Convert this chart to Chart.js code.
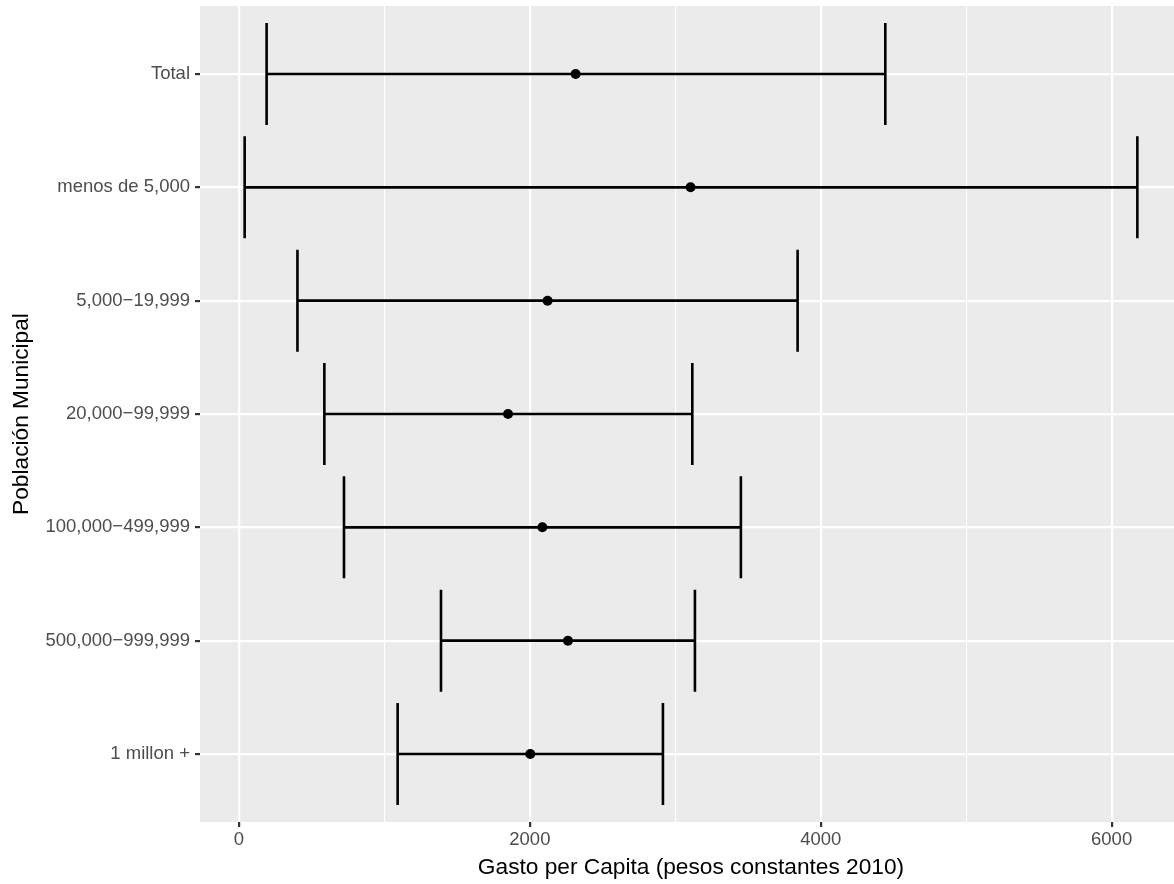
<!DOCTYPE html>
<html>
<head>
<meta charset="utf-8">
<script src="https://cdn.jsdelivr.net/npm/chart.js@4/dist/chart.umd.min.js"></script>
<style>
  html, body { margin: 0; padding: 0; background: #ffffff; overflow: hidden; }
  #wrap { width: 1187px; height: 884px; position: relative; }
</style>
</head>
<body>
<div id="wrap"><canvas id="c"></canvas></div>
<script>
// ---- data ----
const categories = ["Total", "menos de 5,000", "5,000\u221219,999", "20,000\u221299,999",
                    "100,000\u2212499,999", "500,000\u2212999,999", "1 millon +"];
const lowValues  = [190, 39, 402, 587, 722, 1389, 1091];
const highValues = [4444, 6177, 3841, 3117, 3451, 3135, 2915];
const meanValues = [2315, 3105, 2122, 1850, 2086, 2262, 2003];
const xTickValues = [0, 1000, 2000, 3000, 4000, 5000, 6000];
const xTitle = "Gasto per Capita (pesos constantes 2010)";
const yTitle = "Poblaci\u00f3n Municipal";

const FONT = "'Liberation Sans', Arial, sans-serif";

const panelBg = {
  id: 'panelBg',
  beforeDraw(chart) {
    const {ctx, chartArea: a} = chart;
    ctx.save();
    ctx.fillStyle = '#EBEBEB';
    ctx.fillRect(a.left, a.top, a.right - a.left, a.bottom - a.top);
    ctx.restore();
  }
};

const errorBars = {
  id: 'errorBars',
  beforeDatasetsDraw(chart) {
    const {ctx, chartArea: a, scales: {x, y}} = chart;
    ctx.save();
    ctx.beginPath();
    ctx.rect(a.left, a.top, a.right - a.left, a.bottom - a.top);
    ctx.clip();
    ctx.strokeStyle = '#000000';
    ctx.lineWidth = 2.6;
    ctx.lineCap = 'butt';
    categories.forEach((c, i) => {
      const yc = y.getPixelForValue(i);
      const yt = y.getPixelForValue(i - 0.45);
      const yb = y.getPixelForValue(i + 0.45);
      const xl = x.getPixelForValue(lowValues[i]);
      const xh = x.getPixelForValue(highValues[i]);
      ctx.beginPath();
      ctx.moveTo(xl, yc); ctx.lineTo(xh, yc);
      ctx.moveTo(xl, yt); ctx.lineTo(xl, yb);
      ctx.moveTo(xh, yt); ctx.lineTo(xh, yb);
      ctx.stroke();
    });
    ctx.restore();
  }
};

const isMajor = v => v % 2000 === 0;

new Chart(document.getElementById('c'), {
  type: 'scatter',
  data: {
    datasets: [{
      data: meanValues.map((m, i) => ({x: m, y: i})),
      backgroundColor: '#000000',
      borderColor: '#000000',
      pointRadius: 5,
      pointHoverRadius: 5,
      borderWidth: 0
    }]
  },
  options: {
    responsive: true,
    maintainAspectRatio: false,
    animation: false,
    layout: { padding: { top: 6, left: 0, right: 0, bottom: 0 } },
    plugins: { legend: { display: false }, tooltip: { enabled: false } },
    scales: {
      x: {
        type: 'linear',
        min: -268,
        max: 6484,
        afterBuildTicks: s => { s.ticks = xTickValues.map(v => ({value: v})); },
        afterFit: s => { s.height = 62; s.paddingLeft = 0; s.paddingRight = 0; },
        border: { display: false },
        grid: {
          color: '#FFFFFF',
          lineWidth: c => isMajor(c.tick.value) ? 2.2 : 1.1,
          tickColor: c => isMajor(c.tick.value) ? '#333333' : 'rgba(0,0,0,0)',
          tickWidth: 2.2,
          tickLength: 5,
          drawTicks: true
        },
        ticks: {
          autoSkip: false,
          maxRotation: 0,
          padding: 2,
          color: '#4D4D4D',
          font: { family: FONT, size: 18.5 },
          callback: v => isMajor(v) ? String(v) : ''
        },
        title: {
          display: true,
          text: xTitle,
          color: '#000000',
          font: { family: FONT, size: 22.7 },
          padding: { top: 0, bottom: 3 }
        }
      },
      y: {
        type: 'linear',
        min: -0.6,
        max: 6.6,
        reverse: true,
        afterBuildTicks: s => { s.ticks = categories.map((c, i) => ({value: i})); },
        afterFit: s => { s.width = 200; s.paddingTop = 0; s.paddingBottom = 0; },
        border: { display: false },
        grid: {
          color: '#FFFFFF',
          lineWidth: 2.2,
          tickColor: '#333333',
          tickWidth: 2.2,
          tickLength: 5
        },
        ticks: {
          autoSkip: false,
          padding: 5,
          color: '#4D4D4D',
          font: { family: FONT, size: 18.5 },
          callback: v => categories[v]
        },
        title: {
          display: true,
          text: yTitle,
          color: '#000000',
          font: { family: FONT, size: 22.7 },
          padding: { top: 8, bottom: 0 }
        }
      }
    }
  },
  plugins: [panelBg, errorBars]
});
</script>
</body>
</html>
